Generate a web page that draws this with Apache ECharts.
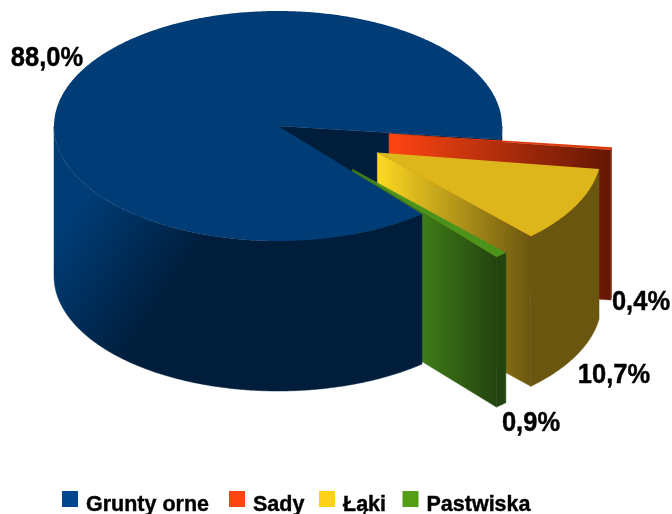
<!DOCTYPE html>
<html>
<head>
<meta charset="utf-8">
<style>
  html, body { margin: 0; padding: 0; background: #fff; }
  #chart { width: 672px; height: 514px; }
</style>
</head>
<body>
<div id="chart"></div>
<script src="https://cdn.jsdelivr.net/npm/echarts@6/dist/echarts.min.js"></script>
<script>
var categories = ['Grunty orne', 'Sady', 'Łąki', 'Pastwiska'];
var shares = [88.0, 0.4, 10.7, 0.9];

// legend colours
var colors = ['#00468c', '#ff4510', '#ffd21a', '#559c17'];

// the pie as a flattened cylinder
var cx = 278, cy = 126, rx = 224, ry = 115, depth = 150;
var startAngle = 50;
var explode = [0, 0.5, 0.5, 0.5];

// faces of each slice: top fill, then gradients as x, y, x2, y2, from, to
var faces = [
	{ top: '#003c75', wall: [53, 0, 240, 0, '#001d3b', '#001d3b'], rim: [53, 250, 155, 318, '#003c75', '#001d3b'] },
	{ top: '#e03a0f', wall: [389, 0, 611, 0, '#ff4513', '#621603'], rim: [389, 0, 611, 0, '#7a1f08', '#7a1f08'] },
	{ top: '#ddb61b', wall: [377, 0, 531, 0, '#ffd922', '#6b5610'], rim: [377, 0, 531, 0, '#6b5610', '#6b5610'] },
	{ top: '#4c931b', wall: [422, 0, 497, 0, '#3f7c17', '#23440e'], rim: [422, 0, 497, 0, '#23440e', '#23440e'] }
];
// paint order, the main slice sits in front of the exploded walls
var order = [
	{ wall: 1, rim: 7, top: 8 },
	{ wall: 2, rim: 2, top: 3 },
	{ wall: 4, rim: 4, top: 5 },
	{ wall: 6, rim: 6, top: 9 }
];
var labelPos = [[47, 58], [641, 302], [614, 375], [531, 423]];
var legendLeft = [62, 229, 319, 402.5];

var total = 0;
for (var i = 0; i < shares.length; i++) total += shares[i];

function sliceSpan(index) {
	var a = startAngle;
	for (var i = 0; i < index; i++) a += shares[i] / total * 360;
	return [a, a + shares[index] / total * 360];
}

function pointAt(t, ox, oy, drop) {
	var r = t * Math.PI / 180;
	return [ox + rx * Math.cos(r), oy + ry * Math.sin(r) + (drop || 0)];
}

function arcPoints(a, b, ox, oy, drop) {
	var pts = [];
	var n = Math.max(2, Math.ceil(Math.abs(b - a) * 2));
	for (var i = 0; i <= n; i++) pts.push(pointAt(a + (b - a) * i / n, ox, oy, drop));
	return pts;
}

function gradient(g) {
	return new echarts.graphic.LinearGradient(g[0], g[1], g[2], g[3], [
		{ offset: 0, color: g[4] },
		{ offset: 1, color: g[5] }
	], true);
}

var renderSlice = function (params, api) {
	var idx = params.seriesIndex;
	var value = api.value(0);
	var span = sliceSpan(idx);
	var mid = (span[0] + span[1]) / 2;
	var tip = pointAt(mid, cx, cy);
	var ox = cx + (tip[0] - cx) * explode[idx];
	var oy = cy + (tip[1] - cy) * explode[idx];
	var f = faces[idx], z = order[idx];
	var children = [];

	// end wall, running down from the clockwise edge
	var edge = pointAt(span[1], ox, oy);
	children.push({
		type: 'polygon', z2: z.wall,
		shape: { points: [[ox, oy], edge, [edge[0], edge[1] + depth], [ox, oy + depth]] },
		style: { fill: gradient(f.wall), stroke: gradient(f.wall), lineWidth: 0.5 }
	});

	// outer rim, only the parts that face the viewer
	var ranges = [[0, 180], [360, 540]];
	for (var k = 0; k < ranges.length; k++) {
		var a = Math.max(span[0], ranges[k][0]), b = Math.min(span[1], ranges[k][1]);
		if (a >= b) continue;
		// the bit of rim past the gap stays behind the exploded slices
		var wraps = k === 1 && span[0] < 360;
		children.push({
			type: 'polygon', z2: wraps ? z.wall : z.rim,
			shape: { points: arcPoints(a, b, ox, oy).concat(arcPoints(b, a, ox, oy, depth)) },
			style: { fill: gradient(f.rim), stroke: gradient(f.rim), lineWidth: 0.5 }
		});
	}

	// top face
	children.push({
		type: 'polygon', z2: z.top,
		shape: { points: [[ox, oy]].concat(arcPoints(span[0], span[1], ox, oy)) },
		style: { fill: f.top }
	});

	children.push({
		type: 'text', z2: 20,
		x: labelPos[idx][0], y: labelPos[idx][1],
		scaleY: 1.1,
		style: {
			text: value.toFixed(1).replace('.', ',') + '%',
			font: 'bold 25.5px "Liberation Sans", Arial, sans-serif',
			fill: '#000',
			stroke: '#000',
			lineWidth: 0.4,
			align: 'center',
			verticalAlign: 'middle'
		}
	});
	return { type: 'group', children: children };
};

var series = [];
var legends = [];
for (var s = 0; s < categories.length; s++) {
	series.push({
		name: categories[s],
		type: 'custom',
		coordinateSystem: 'none',
		renderItem: renderSlice,
		itemStyle: { color: colors[s] },
		data: [[shares[s]]]
	});
	// one legend per entry, the gaps in the original are uneven
	legends.push({
		data: [categories[s]],
		left: legendLeft[s],
		top: 491,
		padding: 0,
		icon: 'rect',
		itemWidth: 16,
		itemHeight: 16,
		formatter: '{t|{name}}',
		textStyle: {
			padding: [12, 0, 0, 3],
			rich: {
				t: {
					fontFamily: '"Liberation Sans", Arial, sans-serif',
					fontWeight: 'bold',
					fontSize: 21.5,
					color: '#000',
					textBorderColor: '#000',
					textBorderWidth: 0.4
				}
			}
		}
	});
}

var chart = echarts.init(document.getElementById('chart'));
var option = {
	animation: false,
	legend: legends,
	series: series
};
chart.setOption(option);
</script>
</body>
</html>
